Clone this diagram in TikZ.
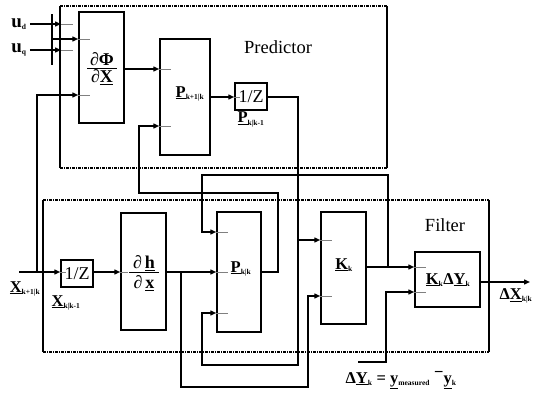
\documentclass[tikz,border=0pt]{standalone}
\usepackage{fontspec}
\setmainfont{Liberation Serif}
\usetikzlibrary{arrows.meta}
\newcommand\sbs[1]{\textsubscript{\fontsize{7.5}{7.5}\selectfont\bfseries #1}}
\newcommand\ulb[1]{\underline{\textbf{#1}}}
\begin{document}
\begin{tikzpicture}[x=1pt,y=-1pt,
  blk/.style={draw,line width=1.5pt,inner sep=0pt},
  sig/.style={line width=1.4pt,-{Triangle[length=6pt,width=5pt]}},
  wire/.style={line width=1.4pt},
  port/.style={gray,line width=0.7pt},
  frameh/.style={line width=1.5pt,dash pattern=on 3pt off 1pt on 1pt off 1pt},
  framev/.style={line width=1.5pt},
  lbl/.style={inner sep=0pt,font=\fontsize{16.5}{16.5}\selectfont\bfseries},
  frac/.style={inner sep=0pt,text height=12pt,text depth=1pt,font=\fontsize{18}{18}\selectfont\bfseries},
  big/.style={inner sep=0pt,font=\fontsize{18.5}{18.5}\selectfont},
  zt/.style={inner sep=0pt,font=\fontsize{18}{18}\selectfont}]
\useasboundingbox (0,0) rectangle (535,395);
\fill[white] (0,0) rectangle (535,395);

% frames
\draw[frameh] (60,6) -- (387,6) (60,168) -- (387,168);
\draw[framev] (60,6) -- (60,168) (387,6) -- (387,168);
\draw[frameh] (43,200) -- (489,200) (43,352) -- (489,352);
\draw[framev] (43,200) -- (43,352) (489,200) -- (489,352);
\node[big] (predlbl) at (278,47) {Predictor};
\node[big] (filtlbl) at (445,225) {Filter};

% blocks
\node[blk,minimum width=45pt,minimum height=111pt] (dphi) at (101.5,67.5) {};
\node[blk,minimum width=50pt,minimum height=116pt] (pk1) at (185,97) {};
\node[blk,minimum width=32pt,minimum height=27pt] (z1) at (251,96.5) {};
\node[blk,minimum width=32pt,minimum height=27pt] (z2) at (77,273.5) {};
\node[blk,minimum width=45pt,minimum height=117pt] (dh) at (143.5,271.5) {};
\node[blk,minimum width=44pt,minimum height=120pt] (pkk) at (239,272) {};
\node[blk,minimum width=45pt,minimum height=112pt] (kk) at (343.5,268) {};
\node[blk,minimum width=65pt,minimum height=55pt] (kdy) at (447.5,279.5) {};

% block texts
\node[frac] (dphinum) at (102,60) {∂Φ};
\node[frac] (dphiden) at (102,77.5) {∂\underline{X}};
\draw[line width=1.3pt] (87,68.5) -- (117,68.5);
\node[frac] (dhnum) at (144,263) {∂\,\underline{h}};
\node[frac] (dhden) at (144,283) {∂\,\underline{x}};
\draw[line width=1.3pt] (129,272.5) -- (159,272.5);
\node[lbl] (pk1lbl) at (190,94) {\ulb{P}\sbs{k+1|k}};
\node[zt] (z1lbl) at (251,97) {1/Z};
\node[zt] (z2lbl) at (77,274) {1/Z};
\node[lbl] (pkklbl) at (241,269) {\ulb{P}\sbs{k|k}};
\node[lbl] (kklbl) at (344,265) {\ulb{K}\sbs{k}};
\node[lbl] (kdylbl) at (448,280) {\ulb{K}\sbs{k}Δ\ulb{Y}\sbs{k}};

% outer labels
\node[lbl,font=\fontsize{19}{19}\selectfont\bfseries] (ud) at (19,24) {u\sbs{d}};
\node[lbl,font=\fontsize{19}{19}\selectfont\bfseries] (uq) at (19,50) {u\sbs{q}};
\node[lbl] (xk1) at (25,289) {\ulb{X}\sbs{k+1|k}};
\node[lbl] (xkk1) at (66,303) {\ulb{X}\sbs{k|k-1}};
\node[lbl] (pkk1) at (251,119.5) {\ulb{P}\sbs{k|k-1}};
\node[lbl] (dxout) at (516,296) {Δ\ulb{X}\sbs{k|k}};
\node[lbl] (dylbl) at (401,380) {Δ\ulb{Y}\sbs{k} = \ulb{y}\sbs{measured} \raisebox{6pt}{−}\ulb{y}\sbs{k}};

% mux bar
\node[fill,minimum width=1.6pt,minimum height=51pt,inner sep=0pt] (mux) at (52,39.5) {};

% coordinates
\coordinate (pin1) at (61,24);
\coordinate (pin2) at (61,50);
\coordinate (xin) at (19,272);
\coordinate (xout) at (530,282);
\coordinate (yin) at (358,362);

% connectors
\draw[sig] (ud.east |- pin1) ++(3,0) -- (pin1);
\draw[sig] (uq.east |- pin2) ++(3,0) -- (pin2);
\draw[sig] (mux.center |- 0,39) -- (dphi.west |- 0,39);
\draw[sig] (dphi.east |- 0,69) -- (pk1.west |- 0,69);
\draw[sig] (pk1.east |- 0,97) -- (z1.west |- 0,97);
\draw[sig] (xin) -- (z2.west |- xin);
\draw[sig] (37,272) -- (37,95) -- (dphi.west |- 0,95);
\draw[sig] (z2.east |- 0,272) -- (dh.west |- 0,272);
\draw[sig] (dh.east |- 0,272) -- (pkk.west |- 0,272);
\draw[sig] (181,272) -- (181,387) -- (308,387) -- (308,296) -- (kk.west |- 0,296);
\draw[sig] (z1.east |- 0,97) -- (298,97) -- (298,365) -- (202,365) -- (202,313) -- (pkk.west |- 0,313);
\draw[sig] (298,240) -- (kk.west |- 0,240);
\draw[sig] (pkk.east |- 0,272) -- (278,272) -- (278,193) -- (139,193) -- (139,126) -- (pk1.west |- 0,126);
\draw[sig] (kk.east |- 0,267) -- (kdy.west |- 0,267);
\draw[sig] (388,267) -- (388,175) -- (202,175) -- (202,232) -- (pkk.west |- 0,232);
\draw[sig] (yin) -- (386,362) -- (386,292) -- (kdy.west |- 0,292);
\draw[sig] (kdy.east |- xout) -- (xout);

% ports
\draw[port] (pin1) -- ++(12,0) (pin2) -- ++(12,0);
\foreach \y in {39,95} \draw[port] (dphi.west |- 0,\y) -- ++(12,0);
\foreach \y in {69,126} \draw[port] (pk1.west |- 0,\y) -- ++(12,0);
\foreach \y in {232,272,313} \draw[port] (pkk.west |- 0,\y) -- ++(12,0);
\foreach \y in {240,296} \draw[port] (kk.west |- 0,\y) -- ++(12,0);
\foreach \y in {267,292} \draw[port] (kdy.west |- 0,\y) -- ++(12,0);
\draw[port] (z1.west |- 0,97) -- ++(6,0);
\draw[port] (z2.west |- 0,272) -- ++(6,0);
\draw[port] (dh.west |- 0,272) -- ++(8,0);
\end{tikzpicture}
\end{document}
